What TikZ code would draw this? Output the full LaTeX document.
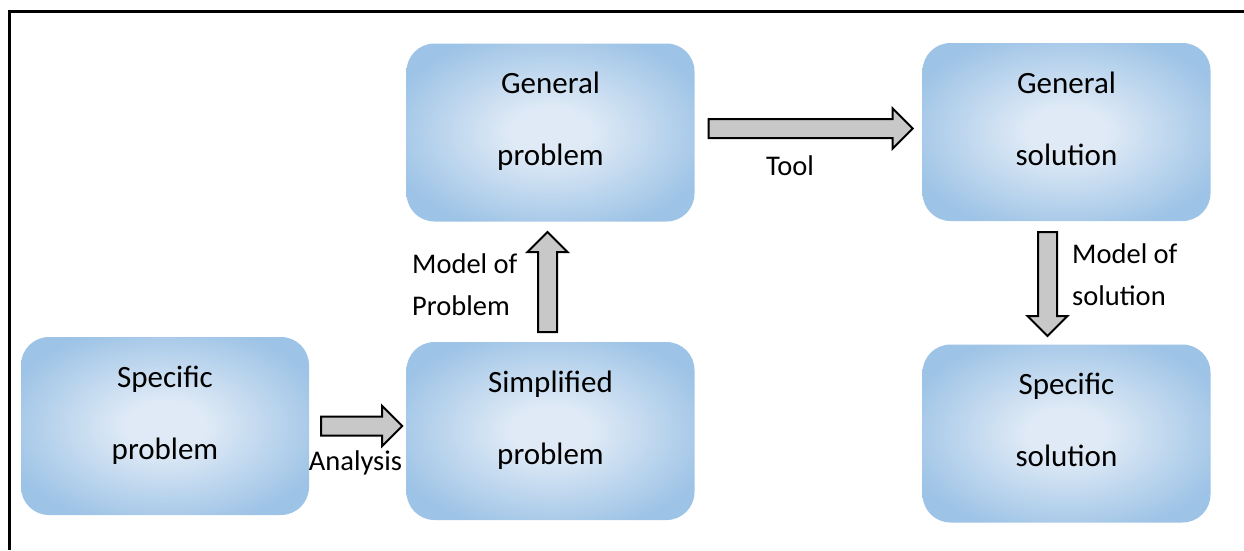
\documentclass[tikz,border=0pt]{standalone}
\usepackage{fontspec}
\setmainfont{Carlito}
\definecolor{boxedge}{HTML}{9DC3E6}
\definecolor{boxlight}{HTML}{DFEAF6}
\definecolor{arrowgray}{HTML}{C8C8C8}
\pgfdeclareradialshading{boxshade}{\pgfpointorigin}{color(0bp)=(boxlight); color(7bp)=(boxlight); color(29bp)=(boxedge); color(50bp)=(boxedge)}
\newcommand\twolinec[2]{\begin{tabular}[t]{@{}c@{}}#1\\[35pt]#2\end{tabular}}
\newcommand\twolinel[2]{\begin{tabular}[t]{@{}l@{}}#1\\[8pt]#2\end{tabular}}
\begin{document}
\begin{tikzpicture}[x=1pt,y=-1pt,
  stagebox/.style={rounded corners=28pt, minimum width=288pt, minimum height=178pt,
    shade, shading=boxshade, draw=none, inner sep=0pt,
    font=\fontsize{31}{37}\selectfont, text height=20pt, text depth=98pt},
  steplabel/.style={inner sep=0pt, font=\fontsize{28.5}{34}\selectfont},
  arrowbody/.style={draw=black, fill=arrowgray, line width=2pt, line join=miter},
  pics/blockarrow/.style={code={
    \draw[arrowbody] (0,-9.5) -- (#1-20,-9.5) -- (#1-20,-20) -- (#1,0) -- (#1-20,20) -- (#1-20,9.5) -- (0,9.5) -- cycle;}}
]
\useasboundingbox (0,0) rectangle (1244,550);
% frame
\draw[line width=3pt] (1244,11) -- (9,11) -- (9,550);
% boxes
\node[stagebox] (sp)   at (165,426)    {\twolinec{Specific}{problem}};
\node[stagebox] (simp) at (550.5,431)  {\twolinec{Simplified}{problem}};
\node[stagebox] (gp)   at (550.5,132.5){\twolinec{General}{problem}};
\node[stagebox] (gs)   at (1066.5,132) {\twolinec{General}{solution}};
\node[stagebox] (ss)   at (1066.5,433.5){\twolinec{Specific}{solution}};
% arrow anchors
\coordinate (aA) at ([xshift=12pt]sp.east);
\coordinate (aB) at ([xshift=14pt,yshift=4pt]gp.east);
\coordinate (aC) at (547.5,332);
\coordinate (aD) at (1047.5,232);
\pic at (aA) {blockarrow=81};
\pic at (aB) {blockarrow=204};
\pic[rotate=90] at (aC) {blockarrow=100};
\pic[rotate=-90] at (aD) {blockarrow=104};
% labels
\node[steplabel, anchor=base] (lA) at (355.5,470) {Analysis};
\node[steplabel, anchor=base] (lB) at (790,175) {Tool};
\node[steplabel, anchor=base west] (lC) at (412,273) {\twolinel{Model of}{Problem}};
\node[steplabel, anchor=base west] (lD) at (1072,263) {\twolinel{Model of}{solution}};
\end{tikzpicture}
\end{document}
